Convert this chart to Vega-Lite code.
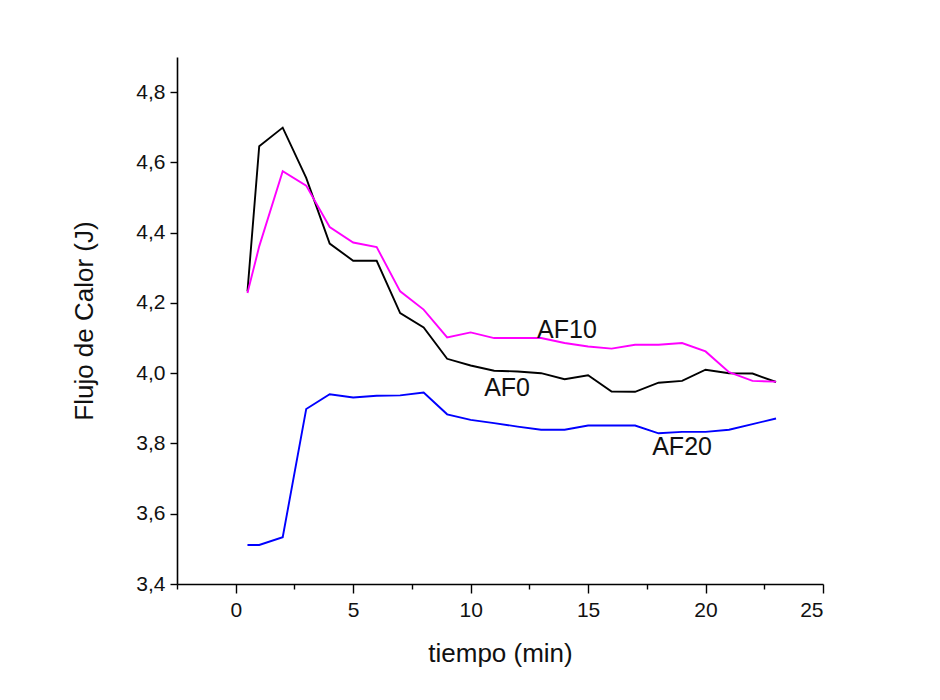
{
  "$schema": "https://vega.github.io/schema/vega-lite/v6.json",
  "autosize": "none",
  "width": 646,
  "height": 527,
  "padding": {"left": 177, "top": 57, "right": 117, "bottom": 116},
  "background": "white",
  "config": {
    "view": {"stroke": null},
    "font": "Liberation Sans",
    "axis": {
      "grid": false,
      "domainColor": "black",
      "domainWidth": 1.6,
      "tickColor": "black",
      "tickWidth": 1.4,
      "labelFont": "Liberation Sans",
      "labelFontSize": 21,
      "labelColor": "#111",
      "titleFont": "Liberation Sans",
      "titleFontSize": 26,
      "titleFontWeight": "normal",
      "titleColor": "#111"
    }
  },
  "datasets": {
    "series": [
      {"t": 0.5, "v": 4.233, "s": "AF0"},
      {"t": 1, "v": 4.646, "s": "AF0"},
      {"t": 2, "v": 4.699, "s": "AF0"},
      {"t": 3, "v": 4.556, "s": "AF0"},
      {"t": 4, "v": 4.369, "s": "AF0"},
      {"t": 5, "v": 4.32, "s": "AF0"},
      {"t": 6, "v": 4.32, "s": "AF0"},
      {"t": 7, "v": 4.171, "s": "AF0"},
      {"t": 8, "v": 4.13, "s": "AF0"},
      {"t": 9, "v": 4.041, "s": "AF0"},
      {"t": 10, "v": 4.022, "s": "AF0"},
      {"t": 11, "v": 4.007, "s": "AF0"},
      {"t": 12, "v": 4.005, "s": "AF0"},
      {"t": 13, "v": 4.0, "s": "AF0"},
      {"t": 14, "v": 3.983, "s": "AF0"},
      {"t": 15, "v": 3.994, "s": "AF0"},
      {"t": 16, "v": 3.948, "s": "AF0"},
      {"t": 17, "v": 3.947, "s": "AF0"},
      {"t": 18, "v": 3.973, "s": "AF0"},
      {"t": 19, "v": 3.978, "s": "AF0"},
      {"t": 20, "v": 4.01, "s": "AF0"},
      {"t": 21, "v": 4.0, "s": "AF0"},
      {"t": 22, "v": 3.999, "s": "AF0"},
      {"t": 23, "v": 3.975, "s": "AF0"},
      {"t": 0.5, "v": 4.228, "s": "AF10"},
      {"t": 1, "v": 4.361, "s": "AF10"},
      {"t": 2, "v": 4.575, "s": "AF10"},
      {"t": 3, "v": 4.534, "s": "AF10"},
      {"t": 4, "v": 4.416, "s": "AF10"},
      {"t": 5, "v": 4.372, "s": "AF10"},
      {"t": 6, "v": 4.359, "s": "AF10"},
      {"t": 7, "v": 4.233, "s": "AF10"},
      {"t": 8, "v": 4.181, "s": "AF10"},
      {"t": 9, "v": 4.102, "s": "AF10"},
      {"t": 10, "v": 4.116, "s": "AF10"},
      {"t": 11, "v": 4.1, "s": "AF10"},
      {"t": 12, "v": 4.1, "s": "AF10"},
      {"t": 13, "v": 4.1, "s": "AF10"},
      {"t": 14, "v": 4.086, "s": "AF10"},
      {"t": 15, "v": 4.076, "s": "AF10"},
      {"t": 16, "v": 4.07, "s": "AF10"},
      {"t": 17, "v": 4.081, "s": "AF10"},
      {"t": 18, "v": 4.081, "s": "AF10"},
      {"t": 19, "v": 4.086, "s": "AF10"},
      {"t": 20, "v": 4.062, "s": "AF10"},
      {"t": 21, "v": 4.003, "s": "AF10"},
      {"t": 22, "v": 3.978, "s": "AF10"},
      {"t": 23, "v": 3.976, "s": "AF10"},
      {"t": 0.5, "v": 3.511, "s": "AF20"},
      {"t": 1, "v": 3.511, "s": "AF20"},
      {"t": 2, "v": 3.533, "s": "AF20"},
      {"t": 3, "v": 3.898, "s": "AF20"},
      {"t": 4, "v": 3.94, "s": "AF20"},
      {"t": 5, "v": 3.931, "s": "AF20"},
      {"t": 6, "v": 3.936, "s": "AF20"},
      {"t": 7, "v": 3.937, "s": "AF20"},
      {"t": 8, "v": 3.945, "s": "AF20"},
      {"t": 9, "v": 3.883, "s": "AF20"},
      {"t": 10, "v": 3.867, "s": "AF20"},
      {"t": 11, "v": 3.858, "s": "AF20"},
      {"t": 12, "v": 3.848, "s": "AF20"},
      {"t": 13, "v": 3.839, "s": "AF20"},
      {"t": 14, "v": 3.839, "s": "AF20"},
      {"t": 15, "v": 3.851, "s": "AF20"},
      {"t": 16, "v": 3.851, "s": "AF20"},
      {"t": 17, "v": 3.851, "s": "AF20"},
      {"t": 18, "v": 3.829, "s": "AF20"},
      {"t": 19, "v": 3.833, "s": "AF20"},
      {"t": 20, "v": 3.833, "s": "AF20"},
      {"t": 21, "v": 3.839, "s": "AF20"},
      {"t": 22, "v": 3.855, "s": "AF20"},
      {"t": 23, "v": 3.871, "s": "AF20"}
    ],
    "labels": [
      {"t": 14.1, "v": 4.124, "label": "AF10"},
      {"t": 11.55, "v": 3.958, "label": "AF0"},
      {"t": 19.0, "v": 3.79, "label": "AF20"}
    ]
  },
  "layer": [
    {
      "data": {"name": "series"},
      "mark": {"type": "line", "strokeWidth": 1.9, "clip": true},
      "encoding": {
        "x": {
          "field": "t",
          "type": "quantitative",
          "scale": {"domain": [-2.5, 25], "nice": false, "zero": false},
          "axis": {
            "title": "tiempo (min)",
            "values": [-2.5, 0, 2.5, 5, 7.5, 10, 12.5, 15, 17.5, 20, 22.5, 25],
            "labelExpr": "datum.value % 5 === 0 ? format(datum.value, 'd') : ''",
            "tickSize": {"condition": {"test": "datum.value % 5 === 0", "value": 9}, "value": 5},
            "labelPadding": 6,
            "titlePadding": 20
          }
        },
        "y": {
          "field": "v",
          "type": "quantitative",
          "scale": {"domain": [3.4, 4.9], "nice": false, "zero": false},
          "axis": {
            "title": "Flujo de Calor (J)",
            "values": [3.4, 3.5, 3.6, 3.7, 3.8, 3.9, 4.0, 4.1, 4.2, 4.3, 4.4, 4.5, 4.6, 4.7, 4.8, 4.9],
            "labelExpr": "round(datum.value * 10) % 2 === 0 ? replace(format(datum.value, '.1f'), '.', ',') : ''",
            "tickSize": 7,
            "labelPadding": 5,
            "titlePadding": 38
          }
        },
        "color": {
          "field": "s",
          "type": "nominal",
          "scale": {"domain": ["AF0", "AF10", "AF20"], "range": ["#000000", "#FF00FF", "#0000FF"]},
          "legend": null
        }
      }
    },
    {
      "data": {"name": "labels"},
      "mark": {"type": "text", "fontSize": 25, "font": "Liberation Sans", "color": "#111", "align": "center", "baseline": "middle"},
      "encoding": {
        "x": {"field": "t", "type": "quantitative"},
        "y": {"field": "v", "type": "quantitative"},
        "text": {"field": "label"}
      }
    }
  ]
}
